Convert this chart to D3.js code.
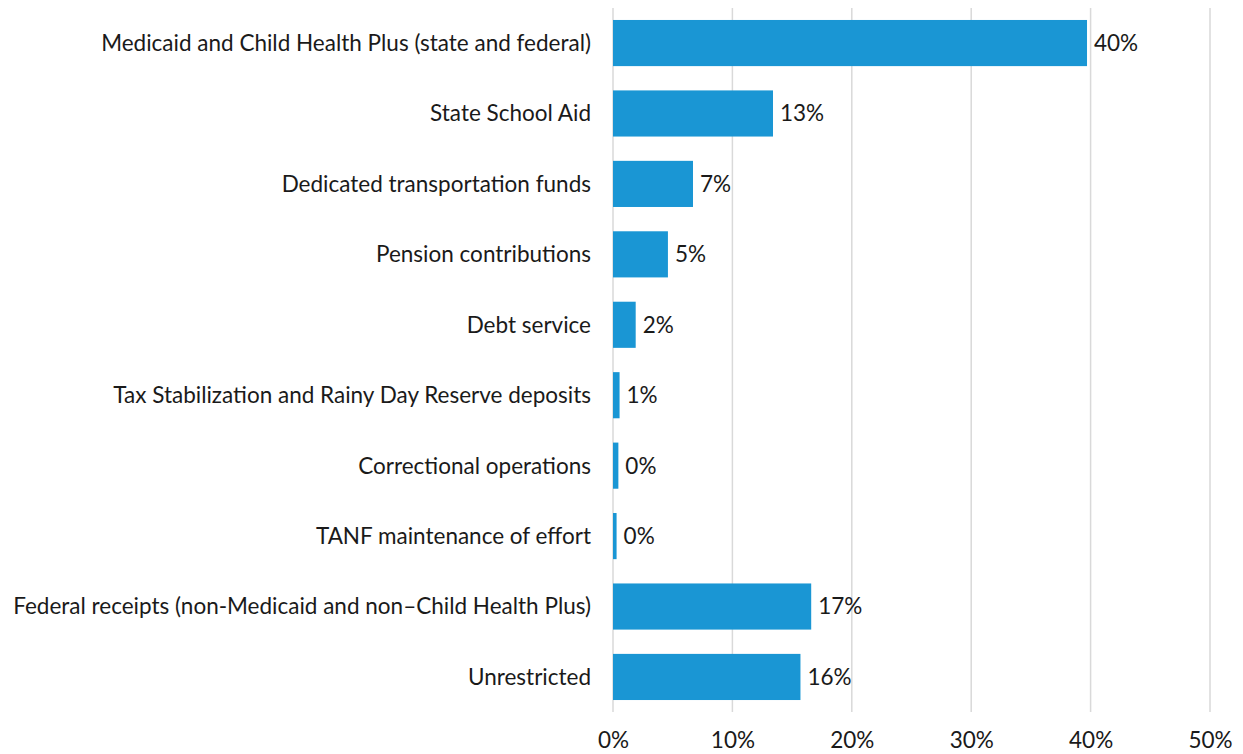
<!DOCTYPE html>
<html>
<head>
<meta charset="utf-8">
<script src="https://cdn.jsdelivr.net/npm/d3@7"></script>
<style>
  body { margin: 0; background: #fff; }
  text { font-family: Lato, "Open Sans", sans-serif; fill: #1a1a1a; }
</style>
</head>
<body>
<svg id="chart" width="1243" height="754"></svg>
<script>
// categories, top to bottom
const categories = [
  "Medicaid and Child Health Plus (state and federal)",
  "State School Aid",
  "Dedicated transportation funds",
  "Pension contributions",
  "Debt service",
  "Tax Stabilization and Rainy Day Reserve deposits",
  "Correctional operations",
  "TANF maintenance of effort",
  "Federal receipts (non-Medicaid and non\u2013Child Health Plus)",
  "Unrestricted"
];
// share of spending, percent
const values = [39.7, 13.4, 6.7, 4.6, 1.9, 0.55, 0.45, 0.3, 16.6, 15.7];
const labels = ["40%", "13%", "7%", "5%", "2%", "1%", "0%", "0%", "17%", "16%"];
const xTicks = [0, 10, 20, 30, 40, 50];

const svg = d3.select("#chart");
const margin = {top: 8, right: 33, bottom: 42, left: 613};
const W = +svg.attr("width"), H = +svg.attr("height");
const w = W - margin.left - margin.right;
const h = H - margin.top - margin.bottom;
const g = svg.append("g").attr("transform", `translate(${margin.left},${margin.top})`);
const fs = 22.5;

const x = d3.scaleLinear().domain([0, 50]).range([0, w]);
const y = d3.scaleBand().domain(categories).range([0, h]).paddingInner(0.345).paddingOuter(0.17);

// gridlines
g.selectAll("line.grid")
  .data(xTicks)
  .enter().append("line")
  .attr("class", "grid")
  .attr("x1", d => x(d)).attr("x2", d => x(d))
  .attr("y1", 0).attr("y2", h)
  .attr("stroke", "#d9d9d9")
  .attr("stroke-width", 1.5);

// x axis labels
const xAxis = g.append("g")
  .attr("transform", `translate(0,${h})`)
  .call(d3.axisBottom(x).tickValues(xTicks).tickFormat(d => d + "%").tickSize(0).tickPadding(20));
xAxis.select(".domain").remove();
xAxis.selectAll("text").attr("font-size", fs).attr("font-family", null).attr("fill", "#1a1a1a");

// bars
g.selectAll("rect.bar")
  .data(values)
  .enter().append("rect")
  .attr("class", "bar")
  .attr("x", 0)
  .attr("y", (d, i) => y(categories[i]))
  .attr("width", d => x(d))
  .attr("height", y.bandwidth())
  .attr("fill", "#1a96d4");

// value labels
g.selectAll("text.val")
  .data(values)
  .enter().append("text")
  .attr("class", "val")
  .attr("x", d => x(d) + 7)
  .attr("y", (d, i) => y(categories[i]) + y.bandwidth() / 2)
  .attr("dy", "0.35em")
  .attr("font-size", fs)
  .text((d, i) => labels[i]);

// category labels
g.selectAll("text.cat")
  .data(categories)
  .enter().append("text")
  .attr("class", "cat")
  .attr("x", -22)
  .attr("y", d => y(d) + y.bandwidth() / 2)
  .attr("dy", "0.35em")
  .attr("text-anchor", "end")
  .attr("font-size", fs)
  .text(d => d);
</script>
</body>
</html>
